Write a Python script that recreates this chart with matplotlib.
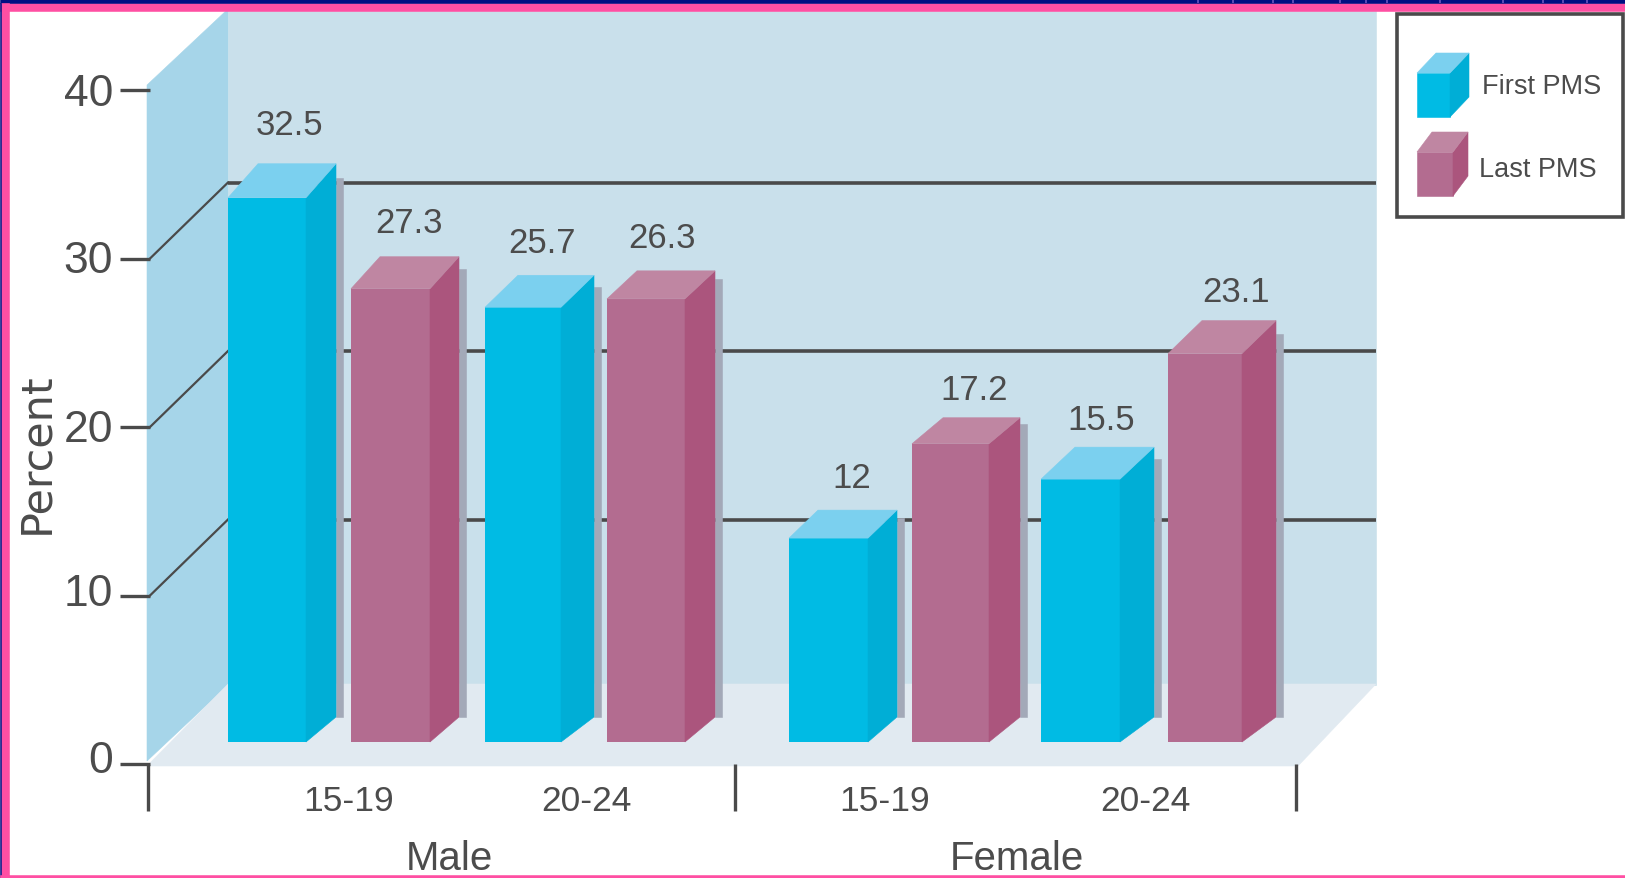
import matplotlib
matplotlib.use('Agg')
import matplotlib.pyplot as plt
from matplotlib.patches import Polygon, Rectangle

groups = ['Male', 'Female']
ages = ['15-19', '20-24', '15-19', '20-24']
# bar heights as drawn in the picture, the printed labels differ a little
first_pms = [32.3, 25.8, 12.1, 15.6]
last_pms = [26.9, 26.3, 17.7, 23.05]
value_labels_first = ['32.5', '25.7', '12', '15.5']
value_labels_last = ['27.3', '26.3', '17.2', '23.1']
y_ticks = [0, 10, 20, 30, 40]
grid_values = [10, 20, 30]

W, H = 1625, 879
PX = 16.85        # pixels per percent
BASE = 743        # pixel row of the bar fronts at 0
FAMILY = ['Liberation Sans', 'DejaVu Sans']
TEXT = '#4c4c4c'
LINE = '#4a4a4a'
BLUE = ('#00bbe4', '#00aed6', '#7bd0ef')
MAUVE = ('#b36c90', '#ab557d', '#bf86a2')
SHADOW = '#a3a9b8'

# bar layout, pixels
first_left = [228, 485, 789, 1041]
first_width = [78, 76, 79, 79]
first_dx = [30, 33, 29, 34]
first_dy = [34, 32, 28, 32]
first_label_x = [289, 542, 852, 1101]
first_label_y = [122, 240, 475, 417]
last_left = [351, 607, 912, 1168]
last_width = [79, 78, 77, 74]
last_dx = [29, 30, 31, 34]
last_dy = [32, 28, 26, 33]
last_label_x = [409, 662, 974, 1236]
last_label_y = [220, 235, 387, 289]
tick_label_rows = [758, 591, 427, 258, 91]


def py(row):
    return (BASE - row) / PX


def poly(ax, pts, color, z):
    ax.add_patch(Polygon([(x, py(r)) for x, r in pts], closed=True, fc=color, ec=color, lw=0.4, zorder=z))


def label(ax, x, row, s, size, **kw):
    # +4: text centres sit a bit above the row otherwise
    ax.text(x, py(row + 4), s, va='center', fontsize=size, color=TEXT, family=FAMILY, **kw)


fig = plt.figure(figsize=(W / 100, H / 100), dpi=100)
ax = fig.add_axes([0, 0, 1, 1])
ax.set_xlim(0, W)
ax.set_ylim(py(H), py(0))
ax.axis('off')

# walls and floor
poly(ax, [(228, 12), (1376, 12), (1376, 686), (228, 686)], '#c9e0eb', 1)
poly(ax, [(147, 86), (228, 10), (228, 686), (147, 762)], '#a6d5e9', 1)
poly(ax, [(147, 767), (228, 685), (1376, 685), (1298, 767)], '#e1eaf1', 1)

# gridlines on the back wall and the left wall
FRONT0 = 765
BACK0 = 689
for v in grid_values:
    ax.plot([228, 1376], [py(BACK0) + v] * 2, color=LINE, lw=2.6, zorder=2, solid_capstyle='butt')
    ax.plot([150, 228], [py(FRONT0) + v, py(BACK0) + v], color=LINE, lw=1.6, zorder=2)

# y axis ticks and labels
for v, row in zip(y_ticks, tick_label_rows):
    ax.plot([120, 150], [py(FRONT0) + v] * 2, color=LINE, lw=2.4, zorder=3, solid_capstyle='butt')
    label(ax, 113, row, str(v), 32, ha='right', zorder=5)
ax.text(36, py(453), 'Percent', rotation=90, ha='center', va='center', fontsize=31, color=TEXT,
        family=['DejaVu Sans'])

# x axis separators
for x in [148, 735, 1296]:
    ax.plot([x, x], [py(765), py(812)], color=LINE, lw=2.4, zorder=3, solid_capstyle='butt')


def bar3d(left, width, value, colors, dx, dy):
    right = left + width
    top = BASE - value * PX
    # shadow on the wall behind
    poly(ax, [(right + dx, top - 20), (right + dx + 7, top - 20), (right + dx + 7, BASE - 25), (right + dx, BASE - 25)],
         SHADOW, 3)
    ax.bar(left, value, width=width, align='edge', color=colors[0], zorder=4)
    poly(ax, [(right, BASE), (right + dx, BASE - 25), (right + dx, top - dy), (right, top)], colors[1], 4)
    poly(ax, [(left, top), (left + dx, top - dy), (right + dx, top - dy), (right, top)], colors[2], 4)


for i in range(4):
    bar3d(first_left[i], first_width[i], first_pms[i], BLUE, first_dx[i], first_dy[i])
    bar3d(last_left[i], last_width[i], last_pms[i], MAUVE, last_dx[i], last_dy[i])
    label(ax, first_label_x[i], first_label_y[i], value_labels_first[i], 25, ha='center', zorder=5)
    label(ax, last_label_x[i], last_label_y[i], value_labels_last[i], 25, ha='center', zorder=5)

# category labels
for x, s in zip([349, 586, 885, 1145], ages):
    label(ax, x, 798, s, 25.5, ha='center')
for x, s in zip([449, 1017], groups):
    label(ax, x, 855, s, 29, ha='center')

# legend box
ax.add_patch(Rectangle((1397, py(218)), 226, (218 - 15) / PX, fc='white', ec=LINE, lw=2.6, zorder=6))


def legend_cube(left, right, bottom, top, depth_x, depth_y, colors):
    poly(ax, [(left, bottom), (right, bottom), (right, top), (left, top)], colors[0], 7)
    poly(ax, [(right, bottom), (right + depth_x, bottom - depth_y), (right + depth_x, top - depth_y), (right, top)], colors[1], 7)
    poly(ax, [(left, top), (left + depth_x, top - depth_y), (right + depth_x, top - depth_y), (right, top)], colors[2], 7)


legend_cube(1417, 1450, 118, 74, 19, 20, BLUE)
legend_cube(1417, 1453, 197, 153, 15, 20, MAUVE)
label(ax, 1482, 83, 'First PMS', 19.5, ha='left', zorder=7)
label(ax, 1479, 166, 'Last PMS', 19.5, ha='left', zorder=7)

# slide frame
PINK = '#ff4fa3'
poly(ax, [(0, 4), (W, 4), (W, 12), (0, 12)], PINK, 8)
poly(ax, [(0, 0), (W, 0), (W, 4), (0, 4)], '#000f82', 8)
poly(ax, [(1, 4), (9, 4), (9, H), (1, H)], PINK, 8)
poly(ax, [(0, 4), (1, 4), (1, H), (0, H)], '#000f82', 8)
poly(ax, [(0, 876), (W, 876), (W, H), (0, H)], PINK, 8)
# bits of the slide background showing above the frame
for x in [1198, 1233, 1273, 1293, 1340, 1366, 1387, 1440, 1503, 1543, 1563, 1587]:
    ax.plot([x, x], [py(0), py(4)], color='#6a55c0', lw=1.2, zorder=9, solid_capstyle='butt')

fig.savefig('out.png', dpi=100)
